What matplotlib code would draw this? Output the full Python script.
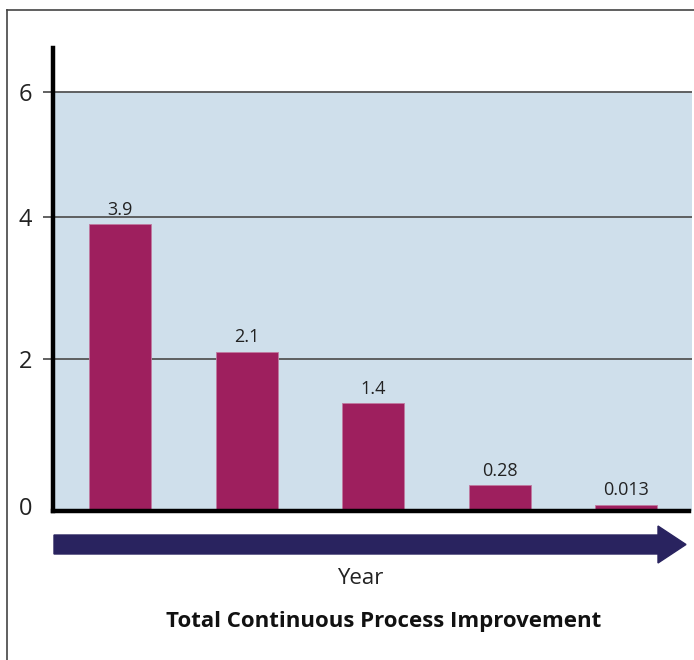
import matplotlib.pyplot as plt
import numpy as np
from matplotlib.patches import FancyArrow
from matplotlib.lines import Line2D

plt.rcParams['font.family'] = ['Open Sans', 'DejaVu Sans']

# Values shown on the bars (one bar per year)
years = [1, 2, 3, 4, 5]
values = [3.9, 2.1, 1.4, 0.28, 0.013]
value_labels = ['3.9', '2.1', '1.4', '0.28', '0.013']
yticks = [0, 2, 4, 6]

# the original axis is hand drawn and not evenly spaced, so use a
# piecewise scale through the tick positions; the baseline sits a
# little under the "0" tick like in the drawing
base = -0.07
knots_v = np.array([base, 0, 2, 4, 6, 6.7])
knots_p = np.array([0, 5, 152, 294, 419, 463])

def fwd(v):
    return np.interp(v, knots_v, knots_p, left=-1e3, right=1e3)

def inv(p):
    return np.interp(p, knots_p, knots_v)

fig = plt.figure(figsize=(6.94, 6.60), dpi=100)
ax = fig.add_axes([53/694, 149/660, 639/694, 463/660])
ax.set_yscale('function', functions=(fwd, inv))

x = np.arange(len(years))
ax.axhspan(base, 6, color='#cfdfeb', zorder=0)
for t in [2, 4, 6]:
    ax.axhline(t, color='#555555', lw=1.3, zorder=1)

ax.bar(x, np.array(values) - base, bottom=base, width=0.49, color='#9e1f5e',
       edgecolor='#c07aa0', lw=0.6, zorder=2)
for xi, v, lab in zip(x, values, value_labels):
    ax.annotate(lab, (xi, v), xytext=(0, 4), textcoords='offset points',
                ha='center', va='bottom', fontsize=13, color='#222222')

ax.set_xlim(-0.53, 4.52)
ax.set_ylim(base, 6.7)
ax.set_xticks([])
ax.set_yticks(yticks)
ax.set_yticklabels([str(t) for t in yticks], fontsize=17, color='#222222')
ax.tick_params(axis='y', length=7, width=1.3, color='#555555', pad=8)
ax.yaxis.get_major_ticks()[0].tick1line.set_visible(False)

for s in ['top', 'right']:
    ax.spines[s].set_visible(False)
ax.spines['left'].set_linewidth(3.2)
ax.spines['bottom'].set_linewidth(3.2)
ax.spines['bottom'].set_bounds(-0.53, 4.5)

# arrow under the axis (display pixels, origin bottom-left)
arrow = FancyArrow(54, 115.5, 632, 0, width=19, head_width=37, head_length=28,
                   length_includes_head=True, color='#29235f', transform=None)
fig.patches.append(arrow)

fig.text(360/694, 1 - 578/660, 'Year', ha='center', va='center', fontsize=16, color='#222222')
fig.text(384/694, 1 - 622/660, 'Total Continuous Process Improvement', ha='center',
         va='center', fontsize=16, fontweight='bold', color='#111111')

# frame lines at top and left
fig.add_artist(Line2D([7/694, 1], [1 - 10/660, 1 - 10/660], color='#444444', lw=1.2))
fig.add_artist(Line2D([7/694, 7/694], [0, 1 - 10/660], color='#444444', lw=1.2))

fig.savefig('out.png', dpi=100)
